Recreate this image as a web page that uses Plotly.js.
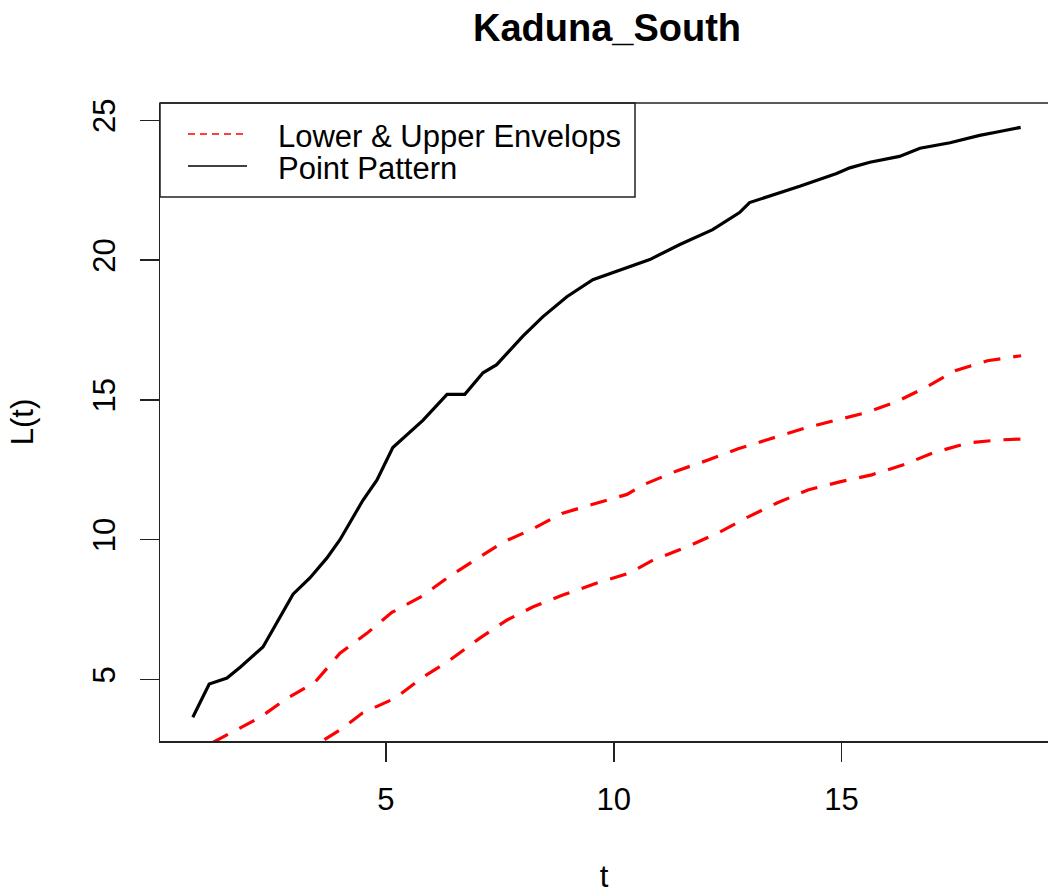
<!DOCTYPE html>
<html>
<head>
<meta charset="utf-8">
<script src="https://cdn.plot.ly/plotly-3.0.1.min.js"></script>
<style>
html,body{margin:0;padding:0;background:#fff;overflow:hidden;}
#chart{width:1048px;height:894px;}
</style>
</head>
<body>
<div id="chart"></div>
<script>
// ---- data ----
const chartTitle = "Kaduna_South";
const xLabel = "t";
const yLabel = "L(t)";
const legendLabels = ["Lower & Upper Envelops", "Point Pattern"];

const tPoint = [0.76,1.12,1.51,1.80,2.30,2.96,3.33,3.70,3.99,4.49,4.80,5.15,5.81,6.34,6.73,7.13,7.43,8.00,8.44,8.97,9.54,10.79,11.45,12.17,12.76,12.98,14.08,14.89,15.18,15.62,16.27,16.72,17.38,18.03,18.47,18.93];
const lPoint = [3.65,4.84,5.05,5.44,6.16,8.05,8.63,9.34,10.00,11.40,12.13,13.30,14.27,15.20,15.20,15.97,16.26,17.27,17.97,18.69,19.30,20.02,20.56,21.09,21.70,22.06,22.64,23.10,23.30,23.50,23.71,24.00,24.20,24.46,24.60,24.75];

const tUpper = [1.20,2.24,2.83,3.44,3.99,4.58,5.13,5.79,6.40,6.95,7.57,8.20,8.86,9.54,10.29,10.64,11.38,12.07,12.73,13.42,14.13,14.81,15.51,16.20,16.87,17.49,18.20,18.94];
const lUpper = [2.75,3.65,4.33,4.90,5.94,6.65,7.40,7.98,8.70,9.27,9.91,10.37,10.94,11.27,11.62,11.96,12.46,12.85,13.25,13.60,13.96,14.25,14.53,14.93,15.47,16.04,16.40,16.58];

const tLower = [3.65,4.03,4.49,5.20,5.81,6.40,7.06,7.65,8.22,8.88,9.63,10.35,10.86,11.60,12.32,12.94,13.58,14.26,14.96,15.66,16.34,17.00,17.77,18.47,18.93];
const lLower = [2.85,3.24,3.81,4.33,5.08,5.69,6.48,7.12,7.59,8.02,8.45,8.81,9.27,9.74,10.27,10.81,11.31,11.78,12.07,12.32,12.67,13.10,13.46,13.57,13.60];

const xTicks = [5,10,15];
const yTicks = [5,10,15,20,25];

// ---- styling ----
const FONT = "Liberation Sans, Arial, Helvetica, sans-serif";
const FS = 31;
const AXC = "#222";
const dashStyle = "17px,13px";

const traces = [
  {x:tUpper, y:lUpper, mode:"lines", name:legendLabels[0], showlegend:false,
   line:{color:"#ff0000", width:3.2, dash:dashStyle}},
  {x:tLower, y:lLower, mode:"lines", name:legendLabels[0]+" (lower)", showlegend:false,
   line:{color:"#ff0000", width:3.2, dash:dashStyle}},
  {x:tPoint, y:lPoint, mode:"lines", name:legendLabels[1], showlegend:false,
   line:{color:"#000000", width:3.2}}
];

// plot area: px 160..1048 horizontally, 103..741 vertically
const W = 888, H = 638;
const px = v => (v-160)/W;
const py = v => (741-v)/H;

const layout = {
  width:1048, height:894,
  margin:{l:160, r:0, t:103, b:153, pad:0},
  paper_bgcolor:"#fff", plot_bgcolor:"#fff",
  font:{family:FONT, size:FS, color:"#000"},
  title:{text:"<b>"+chartTitle+"</b>", font:{family:FONT, size:38, color:"#000"},
         xref:"paper", x:px(607), xanchor:"center", yref:"container", y:1-28/894, yanchor:"middle"},
  showlegend:false,
  xaxis:{range:[0.04,19.53], tickvals:xTicks, ticktext:xTicks.map(String),
         showgrid:false, zeroline:false, showline:true, linecolor:AXC, linewidth:1.5,
         ticks:"outside", ticklen:19, tickwidth:1.5, tickcolor:AXC,
         tickfont:{family:FONT, size:FS, color:"#000"}, ticklabelstandoff:11,
         title:{text:xLabel, font:{family:FONT, size:FS, color:"#000"}, standoff:51},
         automargin:false},
  yaxis:{range:[2.80,25.62], tickvals:yTicks, ticktext:yTicks.map(String),
         showgrid:false, zeroline:false, showline:true, linecolor:AXC, linewidth:1.5,
         ticks:"outside", ticklen:19, tickwidth:1.5, tickcolor:AXC, tickangle:-90,
         tickfont:{family:FONT, size:FS, color:"#000"}, ticklabelstandoff:12,
         title:{text:yLabel, font:{family:FONT, size:FS, color:"#000"}, standoff:44},
         automargin:false},
  shapes:[
    // top border of plot box
    {type:"line", xref:"paper", yref:"paper", x0:0, x1:1, y0:1, y1:1, line:{color:AXC, width:1.5}},
    // legend box
    {type:"rect", xref:"paper", yref:"paper", x0:0, x1:px(635), y0:py(197), y1:1,
     line:{color:AXC, width:1.5}, fillcolor:"rgba(255,255,255,0)"},
    // legend samples
    {type:"line", xref:"paper", yref:"paper", x0:px(188), x1:px(247), y0:py(134), y1:py(134),
     line:{color:"#ff0000", width:1.5, dash:"7px,5px"}},
    {type:"line", xref:"paper", yref:"paper", x0:px(188), x1:px(247), y0:py(166), y1:py(166),
     line:{color:"#000", width:1.5}}
  ],
  annotations:[
    {xref:"paper", yref:"paper", x:px(276), y:py(136), xanchor:"left", yanchor:"middle",
     text:legendLabels[0], showarrow:false, font:{family:FONT, size:FS, color:"#000"}},
    {xref:"paper", yref:"paper", x:px(276), y:py(168), xanchor:"left", yanchor:"middle",
     text:legendLabels[1], showarrow:false, font:{family:FONT, size:FS, color:"#000"}}
  ]
};

Plotly.newPlot("chart", traces, layout, {displayModeBar:false, staticPlot:true});
</script>
</body>
</html>
